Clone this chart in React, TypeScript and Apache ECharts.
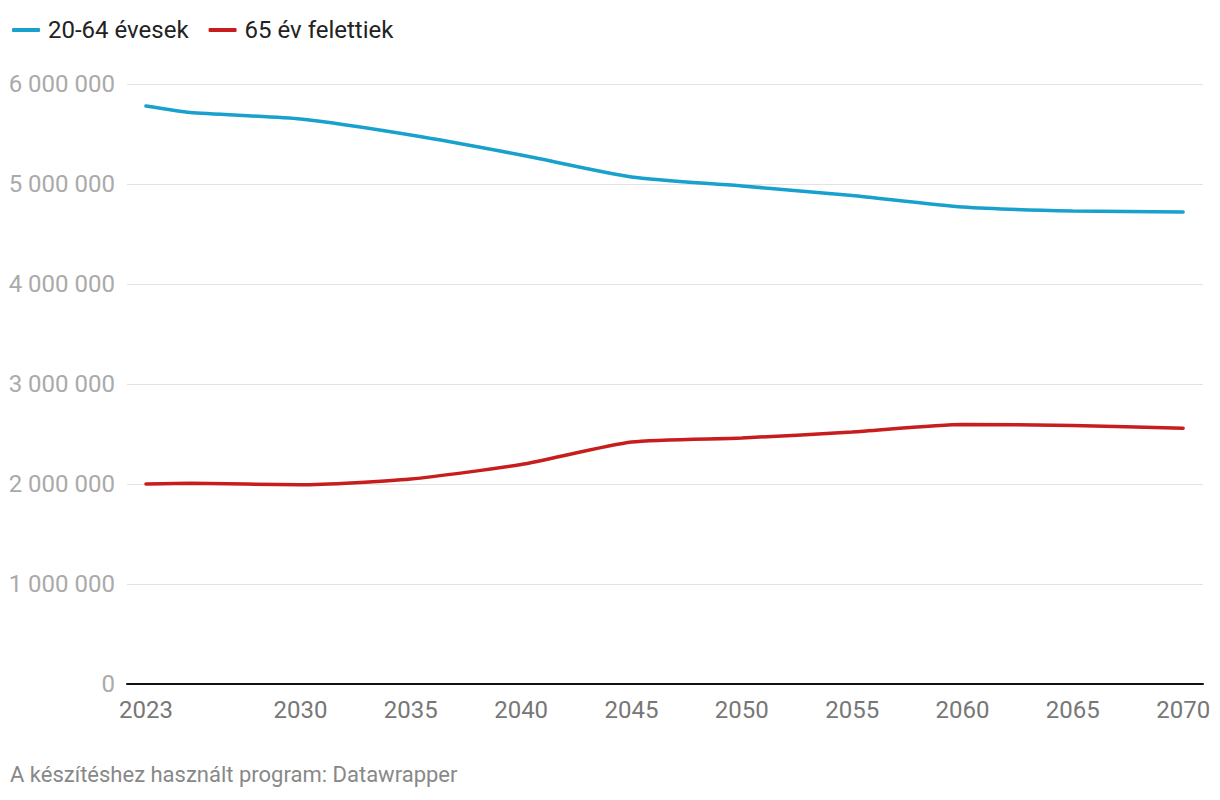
import React, { useEffect, useRef } from "react";
import * as echarts from "echarts";

const years = [2023, 2025, 2030, 2035, 2040, 2045, 2050, 2055, 2060, 2065, 2070];
const working = [5780000, 5715000, 5650000, 5490000, 5290000, 5070000, 4980000, 4885000, 4770000, 4730000, 4720000];
const elderly = [2000000, 2008000, 1992000, 2050000, 2195000, 2420000, 2460000, 2520000, 2595000, 2585000, 2558000];
const tickYears = [2023, 2030, 2035, 2040, 2045, 2050, 2055, 2060, 2065, 2070];
const seriesNames = ["20-64 évesek", "65 év felettiek"];
const footer = "A készítéshez használt program: Datawrapper";

const fmt = (v: number) => String(Math.round(v)).replace(/\B(?=(\d{3})+(?!\d))/g, " ");

export default function App() {
  const ref = useRef<HTMLDivElement>(null);
  useEffect(() => {
    if (!ref.current) return;
    const chart = echarts.init(ref.current, undefined, { renderer: "svg" });
    chart.setOption({
      animation: false,
      textStyle: { fontFamily: "Roboto" },
      legend: {
        left: 7,
        top: 13,
        icon: "roundRect",
        itemWidth: 28,
        itemHeight: 4,
        itemGap: 20,
        textStyle: { fontSize: 24, color: "#222", fontFamily: "Roboto", padding: [0, 0, 0, 3] },
        data: seriesNames,
      },
      grid: { left: 127, right: 17, top: 84, bottom: 116, containLabel: false },
      xAxis: {
        type: "value",
        min: 2022.14,
        max: 2070.9,
        splitLine: { show: false },
        axisLine: { show: true, onZero: false, lineStyle: { color: "#111", width: 2 } },
        axisTick: { show: false },
        axisLabel: {
          customValues: tickYears,
          formatter: (v: number) => String(v),
          fontSize: 24,
          color: "#777",
          margin: 14,
          fontFamily: "Roboto",
        },
      },
      yAxis: {
        type: "value",
        min: 0,
        max: 6000000,
        interval: 1000000,
        axisLine: { show: false },
        axisTick: { show: false },
        splitLine: { lineStyle: { color: "#e2e2e2", width: 1 } },
        axisLabel: {
          formatter: fmt,
          fontSize: 24,
          color: "#aaa",
          margin: 12,
          fontFamily: "Roboto",
        },
      },
      graphic: [
        {
          type: "text",
          left: 10,
          top: 763,
          style: { text: footer, fontSize: 22, fill: "#888", fontFamily: "Roboto" },
        },
      ],
      series: [
        {
          name: seriesNames[0],
          type: "line",
          data: years.map((y, i) => [y, working[i]]),
          smooth: 0.2,
          showSymbol: false,
          lineStyle: { color: "#18a1cd", width: 3.5, cap: "round" },
          itemStyle: { color: "#18a1cd" },
        },
        {
          name: seriesNames[1],
          type: "line",
          data: years.map((y, i) => [y, elderly[i]]),
          smooth: 0.2,
          showSymbol: false,
          lineStyle: { color: "#c71e1d", width: 3.5, cap: "round" },
          itemStyle: { color: "#c71e1d" },
        },
      ],
    });
    return () => chart.dispose();
  }, []);
  return (
    <div
      ref={ref}
      style={{ position: "fixed", left: 0, top: 0, width: 1220, height: 800, background: "#fff" }}
    />
  );
}
